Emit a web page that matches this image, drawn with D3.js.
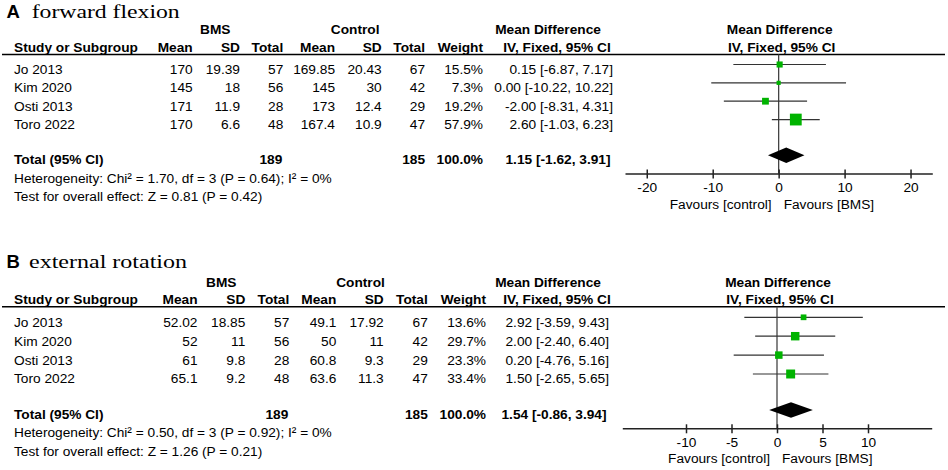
<!DOCTYPE html>
<html>
<head>
<meta charset="utf-8">
<script src="https://cdn.jsdelivr.net/npm/d3@7"></script>
<style>
  body { margin: 0; background: #fff; }
  svg text { fill: #000; }
</style>
</head>
<body>
<script>
// ---- data ----
const studies = ['Jo 2013', 'Kim 2020', 'Osti 2013', 'Toro 2022'];

// A forward flexion
const flexBmsMean = [170, 145, 171, 170];
const flexBmsSD   = [19.39, 18, 11.9, 6.6];
const flexBmsN    = [57, 56, 28, 48];
const flexCtlMean = [169.85, 145, 173, 167.4];
const flexCtlSD   = [20.43, 30, 12.4, 10.9];
const flexCtlN    = [67, 42, 29, 47];
const flexWeight  = [15.5, 7.3, 19.2, 57.9];
const flexMD      = [0.15, 0.00, -2.00, 2.60];
const flexLo      = [-6.87, -10.22, -8.31, -1.03];
const flexHi      = [7.17, 10.22, 4.31, 6.23];
const flexPooled  = [1.15, -1.62, 3.91];   // md, lo, hi
const flexTotals  = [189, 185, 100.0];
const flexHet     = 'Heterogeneity: Chi² = 1.70, df = 3 (P = 0.64); I² = 0%';
const flexTest    = 'Test for overall effect: Z = 0.81 (P = 0.42)';
const flexTicks   = [-20, -10, 0, 10, 20];

// B external rotation
const rotBmsMean = [52.02, 52, 61, 65.1];
const rotBmsSD   = [18.85, 11, 9.8, 9.2];
const rotBmsN    = [57, 56, 28, 48];
const rotCtlMean = [49.1, 50, 60.8, 63.6];
const rotCtlSD   = [17.92, 11, 9.3, 11.3];
const rotCtlN    = [67, 42, 29, 47];
const rotWeight  = [13.6, 29.7, 23.3, 33.4];
const rotMD      = [2.92, 2.00, 0.20, 1.50];
const rotLo      = [-3.59, -2.40, -4.76, -2.65];
const rotHi      = [9.43, 6.40, 5.16, 5.65];
const rotPooled  = [1.54, -0.86, 3.94];
const rotTotals  = [189, 185, 100.0];
const rotHet     = 'Heterogeneity: Chi² = 0.50, df = 3 (P = 0.92); I² = 0%';
const rotTest    = 'Test for overall effect: Z = 1.26 (P = 0.21)';
const rotTicks   = [-10, -5, 0, 5, 10];

const colHeads = ['Mean', 'SD', 'Total', 'Mean', 'SD', 'Total', 'Weight'];

// hyphen minus like the original, not the unicode minus
const loc = d3.formatLocale({decimal: '.', thousands: ',', grouping: [3], currency: ['', ''], minus: '-'});
const f2 = loc.format('.2f'), f1 = loc.format('.1f'), fInt = loc.format('d');

const svg = d3.select('body').append('svg')
    .attr('width', 948).attr('height', 470)
    .style('font-family', '"Liberation Sans", Arial, sans-serif')
    .style('font-size', '13.7px');

const boxSize = d3.scaleSqrt().domain([0, 100]).range([0, 15.5]);

function drawPanel(p) {
  const g = svg.append('g');

  // title
  g.append('text').attr('x', 6.5).attr('y', p.titleY)
    .attr('font-weight', 'bold').attr('font-size', 18.5).text(p.letter);
  g.append('text').attr('x', p.titleX).attr('y', p.titleY)
    .attr('font-family', '"Liberation Serif", "Times New Roman", serif')
    .attr('font-size', 19.3)
    .attr('textLength', p.titleW).attr('lengthAdjust', 'spacingAndGlyphs')
    .text(p.title);

  // group headers
  g.append('text').attr('x', p.bmsX).attr('y', p.groupY).attr('text-anchor', 'middle')
    .attr('font-weight', 'bold').text('BMS');
  g.append('text').attr('x', p.ctlX).attr('y', p.groupY).attr('text-anchor', 'middle')
    .attr('font-weight', 'bold').text('Control');
  g.append('text').attr('x', 548).attr('y', p.groupY).attr('text-anchor', 'middle')
    .attr('font-weight', 'bold').text('Mean Difference');

  // column headers
  const hy = p.lineY - 3;
  g.append('text').attr('x', 14).attr('y', hy).attr('font-weight', 'bold').text('Study or Subgroup');
  g.selectAll('.colhead').data(colHeads).enter().append('text')
    .attr('x', (d, i) => p.cols[i]).attr('y', hy)
    .attr('text-anchor', 'end').attr('font-weight', 'bold').text(d => d);
  g.append('text').attr('x', 557).attr('y', hy).attr('text-anchor', 'middle')
    .attr('font-weight', 'bold').text('IV, Fixed, 95% CI');

  // plot scales
  const x = d3.scaleLinear().domain(p.domain).range(p.xRange);
  const y = d3.scaleLinear().domain([0, studies.length - 1])
    .range([p.row0, p.row0 + (studies.length - 1) * p.step]);

  g.append('text').attr('x', x(0) + 1).attr('y', p.groupY).attr('text-anchor', 'middle')
    .attr('font-weight', 'bold').text('Mean Difference');
  g.append('text').attr('x', x(0) + 3).attr('y', hy).attr('text-anchor', 'middle')
    .attr('font-weight', 'bold').text('IV, Fixed, 95% CI');

  // header rule
  g.append('line').attr('x1', 2).attr('x2', 945).attr('y1', p.lineY).attr('y2', p.lineY)
    .attr('stroke', '#000').attr('stroke-width', 1.5);

  // table rows
  const cells = studies.map((s, i) => [
    String(p.bmsMean[i]), String(p.bmsSD[i]), fInt(p.bmsN[i]),
    String(p.ctlMean[i]), String(p.ctlSD[i]), fInt(p.ctlN[i]),
    f1(p.weight[i]) + '%',
    `${f2(p.md[i])} [${f2(p.lo[i])}, ${f2(p.hi[i])}]`
  ]);
  const rows = g.selectAll('.row').data(studies).enter().append('g')
    .attr('transform', (d, i) => `translate(0,${y(i) + 9.4})`);
  rows.append('text').attr('x', 14).text(d => d);
  rows.selectAll('.cell').data((d, i) => cells[i]).enter().append('text')
    .attr('x', (d, j) => p.cols[j]).attr('text-anchor', 'end').text(d => d);

  // total row
  const ty = p.totalY + 9;
  g.append('text').attr('x', 14).attr('y', ty).attr('font-weight', 'bold').text('Total (95% CI)');
  g.append('text').attr('x', p.cols[2] - 1).attr('y', ty).attr('text-anchor', 'end')
    .attr('font-weight', 'bold').text(fInt(p.totals[0]));
  g.append('text').attr('x', p.cols[5]).attr('y', ty).attr('text-anchor', 'end')
    .attr('font-weight', 'bold').text(fInt(p.totals[1]));
  g.append('text').attr('x', p.cols[6]).attr('y', ty).attr('text-anchor', 'end')
    .attr('font-weight', 'bold').text(f1(p.totals[2]) + '%');
  g.append('text').attr('x', p.cols[7] - 2.5).attr('y', ty).attr('text-anchor', 'end')
    .attr('font-weight', 'bold')
    .text(`${f2(p.pooled[0])} [${f2(p.pooled[1])}, ${f2(p.pooled[2])}]`);

  g.append('text').attr('x', 14).attr('y', p.axisY + 9).text(p.het);
  g.append('text').attr('x', 14).attr('y', p.axisY + 27.3).text(p.test);

  // zero line
  g.append('line').attr('x1', x(0)).attr('x2', x(0)).attr('y1', p.lineY).attr('y2', p.axisY)
    .attr('stroke', '#444').attr('stroke-width', 1.3);

  // CI whiskers + weight boxes
  g.selectAll('.ci').data(studies).enter().append('line')
    .attr('x1', (d, i) => x(p.lo[i])).attr('x2', (d, i) => x(p.hi[i]))
    .attr('y1', (d, i) => y(i)).attr('y2', (d, i) => y(i))
    .attr('stroke', '#333').attr('stroke-width', 1.2);
  g.selectAll('.box').data(studies).enter().append('rect')
    .attr('x', (d, i) => x(p.md[i]) - boxSize(p.weight[i]) / 2)
    .attr('y', (d, i) => y(i) - boxSize(p.weight[i]) / 2)
    .attr('width', (d, i) => boxSize(p.weight[i]))
    .attr('height', (d, i) => boxSize(p.weight[i]))
    .attr('fill', '#00b300');

  // pooled diamond
  const dh = 7.8;
  g.append('path')
    .attr('d', `M${x(p.pooled[1])},${p.totalY}L${x(p.pooled[0])},${p.totalY - dh}` +
               `L${x(p.pooled[2])},${p.totalY}L${x(p.pooled[0])},${p.totalY + dh}Z`)
    .attr('fill', '#000');

  // axis
  const axis = d3.axisBottom(x).tickValues(p.ticks).tickFormat(fInt)
    .tickSizeInner(5).tickSizeOuter(0).tickPadding(3.8);
  const ag = g.append('g').attr('transform', `translate(0,${p.axisY})`).call(axis);
  ag.attr('font-family', null).attr('font-size', null);
  ag.select('.domain').attr('stroke', '#222').attr('stroke-width', 1.5);
  ag.selectAll('.tick line').attr('y1', -4).attr('stroke', '#222').attr('stroke-width', 1.5);
  ag.selectAll('.tick text').attr('fill', '#000');

  g.append('text').attr('x', x(0) - 7).attr('y', p.axisY + 35).attr('text-anchor', 'end')
    .text('Favours [control]');
  g.append('text').attr('x', x(0) + 5).attr('y', p.axisY + 35).text('Favours [BMS]');
}

drawPanel({
  letter: 'A', title: 'forward flexion', titleX: 31.7, titleW: 148, titleY: 17.6,
  groupY: 34.3, lineY: 54.5, row0: 64.5, step: 18.35, totalY: 155.2, axisY: 173.5,
  bmsX: 215.3, ctlX: 355.2,
  cols: [192.7, 240, 283.3, 335, 381.7, 425, 483, 613],
  domain: [-23.3, 23.3], xRange: [625, 932.3], ticks: flexTicks,
  bmsMean: flexBmsMean, bmsSD: flexBmsSD, bmsN: flexBmsN,
  ctlMean: flexCtlMean, ctlSD: flexCtlSD, ctlN: flexCtlN,
  weight: flexWeight, md: flexMD, lo: flexLo, hi: flexHi,
  pooled: flexPooled, totals: flexTotals, het: flexHet, test: flexTest
});

drawPanel({
  letter: 'B', title: 'external rotation', titleX: 29, titleW: 158, titleY: 268.3,
  groupY: 286.7, lineY: 306.7, row0: 317.3, step: 18.9, totalY: 410, axisY: 428.3,
  bmsX: 221.3, ctlX: 360.5,
  cols: [197.5, 245.3, 289.3, 336.3, 383.7, 427.8, 486, 609],
  domain: [-17, 17], xRange: [622.3, 931.7], ticks: rotTicks,
  bmsMean: rotBmsMean, bmsSD: rotBmsSD, bmsN: rotBmsN,
  ctlMean: rotCtlMean, ctlSD: rotCtlSD, ctlN: rotCtlN,
  weight: rotWeight, md: rotMD, lo: rotLo, hi: rotHi,
  pooled: rotPooled, totals: rotTotals, het: rotHet, test: rotTest
});
</script>
</body>
</html>
